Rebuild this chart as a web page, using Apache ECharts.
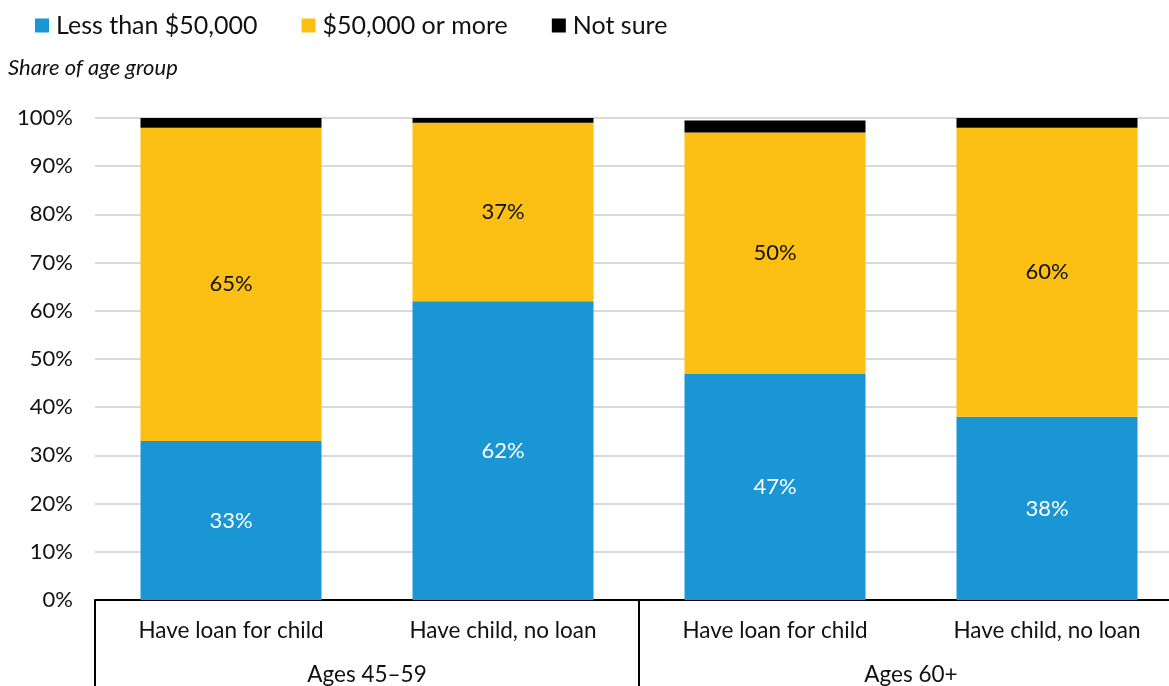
<!DOCTYPE html>
<html>
<head>
<meta charset="utf-8">
<script src="https://cdn.jsdelivr.net/npm/echarts@6/dist/echarts.min.js"></script>
<style>
  html, body { margin: 0; padding: 0; background: #fff; }
  #chart { width: 1169px; height: 686px; }
</style>
</head>
<body>
<div id="chart"></div>
<script>
// Bars: household income of the child, by parent age group and loan status
const categories = ['Have loan for child', 'Have child, no loan', 'Have loan for child', 'Have child, no loan'];
const groups = ['Ages 45–59', 'Ages 60+'];
const lessThan50k = [33, 62, 47, 38];
const moreThan50k = [65, 37, 50, 60];
const notSure = [2, 1, 2.5, 2];
const seriesNames = ['Less than $50,000', '$50,000 or more', 'Not sure'];
const yTicks = { min: 0, max: 100, step: 10 };

const FONT = 'Lato, "Noto Sans", sans-serif';
const BLUE = '#1a96d4';
const YELLOW = '#fcbf14';
const BLACK = '#000000';

const chart = echarts.init(document.getElementById('chart'), null, { renderer: 'canvas' });

function barSeries(name, data, color, labelColor) {
  return {
    name: name,
    type: 'bar',
    stack: 'total',
    xAxisIndex: 0,
    data: data,
    barWidth: 181,
    itemStyle: { color: color },
    label: labelColor ? {
      show: true,
      position: 'inside',
      formatter: p => p.value + '%',
      color: labelColor,
      fontFamily: FONT,
      fontSize: 22
    } : { show: false },
    emphasis: { disabled: true }
  };
}

chart.setOption({
  animation: false,
  textStyle: { fontFamily: FONT },
  legend: {
    left: 35,
    top: 13,
    padding: 0,
    itemWidth: 14,
    itemHeight: 14,
    itemGap: 44,
    icon: 'rect',
    textStyle: { fontFamily: FONT, fontSize: 25, color: '#111', padding: [0, 0, 0, 2] },
    data: seriesNames
  },
  title: {
    text: 'Share of age group',
    left: 3,
    top: 52,
    textStyle: { fontFamily: FONT, fontSize: 22, fontStyle: 'italic', fontWeight: 'normal', color: '#111' }
  },
  grid: { left: 95, top: 118, width: 1088, height: 482, containLabel: false, outerBoundsMode: 'none' },
  xAxis: [
    {
      type: 'category',
      data: categories,
      position: 'bottom',
      axisLine: { show: true, lineStyle: { color: BLACK, width: 2 } },
      axisTick: { show: false },
      axisLabel: { margin: 19, fontFamily: FONT, fontSize: 22.5, color: '#111', interval: 0 }
    },
    {
      type: 'category',
      data: groups,
      position: 'bottom',
      axisLine: { show: false },
      axisTick: { show: true, length: 90, alignWithLabel: false, interval: 0, lineStyle: { color: BLACK, width: 2 } },
      axisLabel: { margin: 63, fontFamily: FONT, fontSize: 22.5, color: '#111', interval: 0 },
      splitLine: { show: false }
    }
  ],
  yAxis: {
    type: 'value',
    min: yTicks.min,
    max: yTicks.max,
    interval: yTicks.step,
    axisLine: { show: false },
    axisTick: { show: false },
    axisLabel: { margin: 22, formatter: '{value}%', fontFamily: FONT, fontSize: 22, color: '#111' },
    splitLine: { lineStyle: { color: '#d9d9d9', width: 2 } }
  },
  series: [
    barSeries(seriesNames[0], lessThan50k, BLUE, '#ffffff'),
    barSeries(seriesNames[1], moreThan50k, YELLOW, '#111111'),
    barSeries(seriesNames[2], notSure, BLACK, null)
  ]
});
</script>
</body>
</html>
